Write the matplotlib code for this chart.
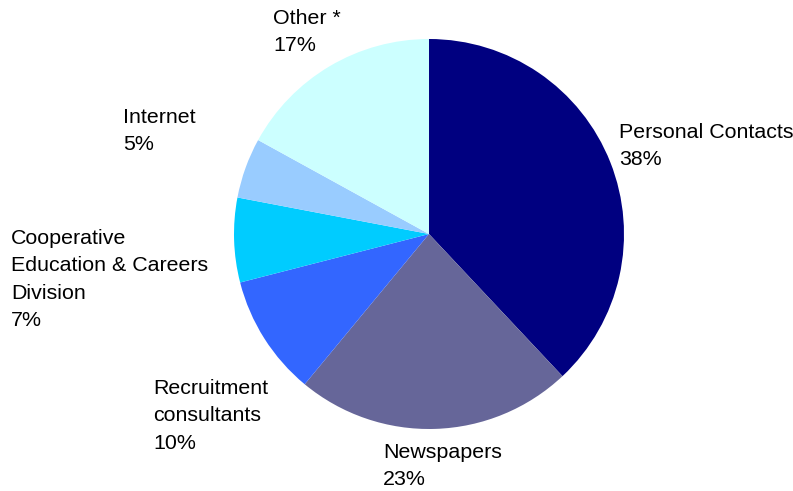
import matplotlib.pyplot as plt

plt.rcParams['font.family'] = ['Liberation Sans', 'DejaVu Sans']

# job-finding channels, clockwise from 12 o'clock
sources = ['Personal Contacts', 'Newspapers', 'Recruitment\nconsultants',
           'Cooperative\nEducation & Careers\nDivision', 'Internet', 'Other *']
shares = [38, 23, 10, 7, 5, 17]
colors = ['#000080', '#666699', '#3366FF', '#00CCFF', '#99CCFF', '#CCFFFF']

# top-left corner of each label, in pixels
label_pos = [(619, 123), (383, 443), (153, 379), (11, 229), (123, 108), (273, 9)]

W, H = 793, 491
fig = plt.figure(figsize=(W / 100, H / 100), dpi=100)
ax = fig.add_axes([0, 0, 1, 1])

ax.pie(shares, colors=colors, startangle=90, counterclock=False,
       center=(429, H - 234), radius=195, frame=True,
       wedgeprops=dict(linewidth=0))
ax.set_xlim(0, W)
ax.set_ylim(0, H)
ax.set_aspect('auto')
ax.axis('off')

for name, v, (x, y) in zip(sources, shares, label_pos):
    ax.text(x, H - y, f'{name}\n{v}%', ha='left', va='top',
            fontsize=15.4, linespacing=1.56, color='black')

fig.savefig('out.png', dpi=100)
